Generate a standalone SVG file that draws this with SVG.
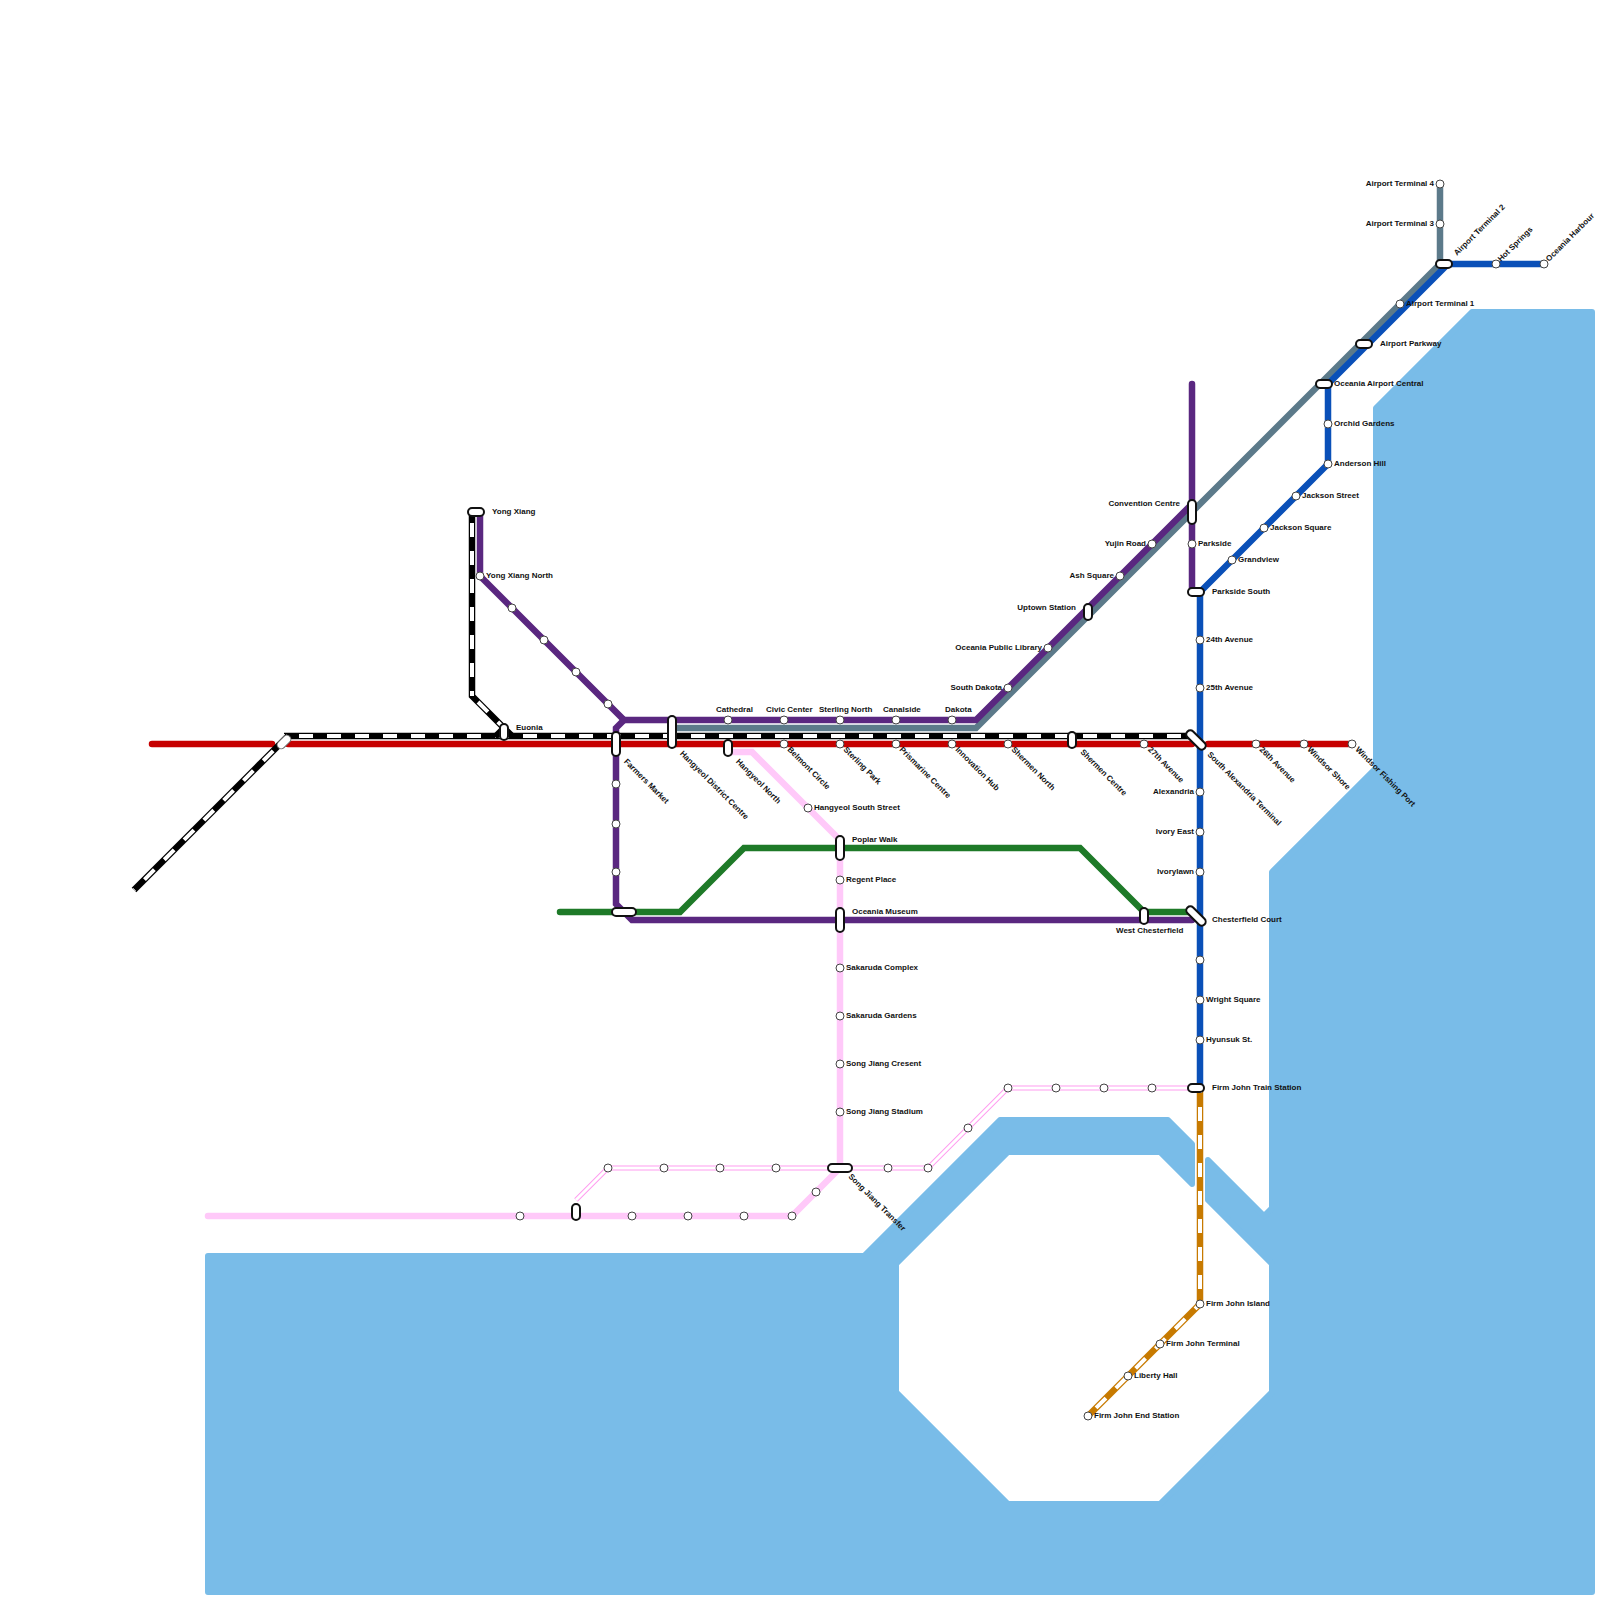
<svg xmlns="http://www.w3.org/2000/svg" width="1600" height="1600" viewBox="0 0 1600 1600">
<style>
.bg{fill:#fff}
.water{fill:#79bce8;stroke:#79bce8;stroke-width:6;stroke-linejoin:round}
.l{fill:none;stroke-width:6.5;stroke-linejoin:miter;stroke-linecap:round}
.b{stroke-linecap:butt}
.red{stroke:#c60000}.pur{stroke:#5a2780}.teal{stroke:#5c7a8a}.blue{stroke:#0a50b8}.green{stroke:#1e7a28}.pink{stroke:#ffc9f9}.brown{stroke:#c77a00}.blk{stroke:#000}
.wd{fill:none;stroke:#fff;stroke-width:4;stroke-dasharray:14 14}
.dbl{fill:none;stroke:#ff9cf0;stroke-width:5;stroke-linejoin:miter}
.dblw{fill:none;stroke:#fff;stroke-width:3;stroke-linejoin:miter}
.s{fill:#fff;stroke:#444;stroke-width:1}
.p{fill:#fff;stroke:#111;stroke-width:2}
.pg{fill:#fff;stroke:#666;stroke-width:1}
text{font-family:"Liberation Sans",Arial,sans-serif;font-size:8px;font-weight:700;fill:#111}
.e{text-anchor:end}
</style>
<rect class="bg" width="1600" height="1600"/>
<polygon id="water" class="water" points="1472,312 1592,312 1592,1592 208,1592 208,1256 864,1256 1000,1120 1168,1120 1192,1144 1192,1184 1160,1152 1008,1152 896,1264 896,1392 1008,1504 1160,1504 1272,1392 1272,1264 1208,1200 1208,1160 1264,1216 1272,1208 1272,872 1376,768 1376,408"/>
<g id="connectors">
<path class="l green" d="M560 912H680L744 848H1080L1144 912H1192"/>
<path class="l red" d="M152 744H272"/>
<path class="l red" d="M288 744H1192"/>
<path class="l red" d="M1208 744H1352"/>
<path class="l teal" d="M672 728H976L1440 264V184"/>
<path class="l pur" d="M480 512V576L624 720H976L1192 504"/>
<path class="l pur" d="M624 720L616 728V904L632 920H1192"/>
<path class="l pur" d="M1192 384V592"/>
<path class="l pink" d="M208 1216H792L840 1168V840L752 752H728"/>
<path class="dbl" d="M576 1200L608 1168H928L1008 1088H1196"/>
<path class="dblw" d="M576 1200L608 1168H928L1008 1088H1196"/>
<path class="l blue b" d="M1200 592V1088"/>
<path class="l blue b" d="M1200 592L1328 464V384L1448 264H1544"/>
<path class="l brown b" d="M1200 1088V1304"/>
<path class="wd" stroke-dashoffset="9" d="M1200 1088V1304"/>
<path class="l brown b" d="M1200 1304L1088 1416"/>
<path class="wd" stroke-dashoffset="7" d="M1200 1304L1088 1416"/>
<path class="l blk b" d="M284 736H1192"/>
<path class="wd" stroke-dashoffset="13" d="M284 736H1192"/>
<path class="l blk b" d="M288 736L134 890"/>
<path class="wd" stroke-dashoffset="7" d="M288 736L134 890"/>
<path class="l blk b" d="M472 512V696L512 736"/>
<path class="wd" stroke-dashoffset="17" d="M472 512V696"/>
<path class="wd" stroke-dashoffset="19.5" d="M472 696L512 736"/>
<path class="l blk b" d="M495 737L504 728"/>
</g>
<g id="n-yong-xiang"><rect class="p" x="468" y="508" width="16" height="8" rx="4"/><text x="492" y="514">Yong Xiang</text></g>
<g id="n-yong-xiang-north"><circle class="s" cx="480" cy="576" r="4"/><text x="486" y="578">Yong Xiang North</text></g>
<g id="n-p1"><circle class="s" cx="512" cy="608" r="4"/></g>
<g id="n-p2"><circle class="s" cx="544" cy="640" r="4"/></g>
<g id="n-p3"><circle class="s" cx="576" cy="672" r="4"/></g>
<g id="n-p4"><circle class="s" cx="608" cy="704" r="4"/></g>
<g id="n-euonia"><rect class="p" x="500" y="724" width="8" height="16" rx="4"/><text x="516" y="730">Euonia</text></g>
<g id="n-west-end"><rect class="pg" x="276" y="738" width="16" height="8" rx="4" transform="rotate(-45 284 742)"/></g>
<g id="n-farmers-market"><rect class="p" x="612" y="732" width="8" height="24" rx="4"/><text transform="translate(623.5 762) rotate(45)">Farmers Market</text></g>
<g id="n-hangyeol-district"><rect class="p" x="668" y="716" width="8" height="32" rx="4"/><text transform="translate(679.5 754) rotate(45)">Hangyeol District Centre</text></g>
<g id="n-hangyeol-north"><rect class="p" x="724" y="740" width="8" height="16" rx="4"/><text transform="translate(735.5 762) rotate(45)">Hangyeol North</text></g>
<g id="n-cathedral"><circle class="s" cx="728" cy="720" r="4"/><text x="716" y="712">Cathedral</text></g>
<g id="n-civic-center"><circle class="s" cx="784" cy="720" r="4"/><text x="766" y="712">Civic Center</text></g>
<g id="n-sterling-north"><circle class="s" cx="840" cy="720" r="4"/><text x="819" y="712">Sterling North</text></g>
<g id="n-canalside"><circle class="s" cx="896" cy="720" r="4"/><text x="883" y="712">Canalside</text></g>
<g id="n-dakota"><circle class="s" cx="952" cy="720" r="4"/><text x="945" y="712">Dakota</text></g>
<g id="n-belmont"><circle class="s" cx="784" cy="744" r="4"/><text transform="translate(787 750) rotate(45)">Belmont Circle</text></g>
<g id="n-sterling-park"><circle class="s" cx="840" cy="744" r="4"/><text transform="translate(843 750) rotate(45)">Sterling Park</text></g>
<g id="n-prismarine"><circle class="s" cx="896" cy="744" r="4"/><text transform="translate(899 750) rotate(45)">Prismarine Centre</text></g>
<g id="n-innovation"><circle class="s" cx="952" cy="744" r="4"/><text transform="translate(955 750) rotate(45)">Innovation Hub</text></g>
<g id="n-shermen-north"><circle class="s" cx="1008" cy="744" r="4"/><text transform="translate(1011 750) rotate(45)">Shermen North</text></g>
<g id="n-shermen-centre"><rect class="p" x="1068" y="732" width="8" height="16" rx="4"/><text transform="translate(1080 752.5) rotate(45)">Shermen Centre</text></g>
<g id="n-27th"><circle class="s" cx="1144" cy="744" r="4"/><text transform="translate(1147.5 750) rotate(45)">27th Avenue</text></g>
<g id="n-south-alexandria"><rect class="p" x="1184" y="736" width="24" height="8" rx="4" transform="rotate(45 1196 740)"/><text transform="translate(1207 755) rotate(45)">South Alexandria Terminal</text></g>
<g id="n-26th"><circle class="s" cx="1256" cy="744" r="4"/><text transform="translate(1259 750) rotate(45)">26th Avenue</text></g>
<g id="n-windsor-shore"><circle class="s" cx="1304" cy="744" r="4"/><text transform="translate(1307 750) rotate(45)">Windsor Shore</text></g>
<g id="n-windsor-fishing"><circle class="s" cx="1352" cy="744" r="4"/><text transform="translate(1355 750) rotate(45)">Windsor Fishing Port</text></g>
<g id="n-south-dakota"><circle class="s" cx="1008" cy="688" r="4"/><text class="e" x="1002" y="690">South Dakota</text></g>
<g id="n-public-library"><circle class="s" cx="1048" cy="648" r="4"/><text class="e" x="1042" y="650">Oceania Public Library</text></g>
<g id="n-uptown"><rect class="p" x="1084" y="604" width="8" height="16" rx="4"/><text class="e" x="1076" y="610">Uptown Station</text></g>
<g id="n-ash-square"><circle class="s" cx="1120" cy="576" r="4"/><text class="e" x="1114" y="578">Ash Square</text></g>
<g id="n-yujin"><circle class="s" cx="1152" cy="544" r="4"/><text class="e" x="1146" y="546">Yujin Road</text></g>
<g id="n-convention"><rect class="p" x="1188" y="500" width="8" height="24" rx="4"/><text class="e" x="1180" y="506">Convention Centre</text></g>
<g id="n-parkside"><circle class="s" cx="1192" cy="544" r="4"/><text x="1198" y="546">Parkside</text></g>
<g id="n-parkside-south"><rect class="p" x="1188" y="588" width="16" height="8" rx="4"/><text x="1212" y="594">Parkside South</text></g>
<g id="n-grandview"><circle class="s" cx="1232" cy="560" r="4"/><text x="1238" y="562">Grandview</text></g>
<g id="n-jackson-square"><circle class="s" cx="1264" cy="528" r="4"/><text x="1270" y="530">Jackson Square</text></g>
<g id="n-jackson-street"><circle class="s" cx="1296" cy="496" r="4"/><text x="1302" y="498">Jackson Street</text></g>
<g id="n-anderson"><circle class="s" cx="1328" cy="464" r="4"/><text x="1334" y="466">Anderson Hill</text></g>
<g id="n-orchid"><circle class="s" cx="1328" cy="424" r="4"/><text x="1334" y="426">Orchid Gardens</text></g>
<g id="n-airport-central"><rect class="p" x="1316" y="380" width="16" height="8" rx="4"/><text x="1334" y="386">Oceania Airport Central</text></g>
<g id="n-airport-parkway"><rect class="p" x="1356" y="340" width="16" height="8" rx="4"/><text x="1380" y="346">Airport Parkway</text></g>
<g id="n-terminal-1"><circle class="s" cx="1400" cy="304" r="4"/><text x="1406" y="306">Airport Terminal 1</text></g>
<g id="n-terminal-2"><rect class="p" x="1436" y="260" width="16" height="8" rx="4"/><text transform="translate(1457 256) rotate(-45)">Airport Terminal 2</text></g>
<g id="n-terminal-3"><circle class="s" cx="1440" cy="224" r="4"/><text class="e" x="1434" y="226">Airport Terminal 3</text></g>
<g id="n-terminal-4"><circle class="s" cx="1440" cy="184" r="4"/><text class="e" x="1434" y="186">Airport Terminal 4</text></g>
<g id="n-hot-springs"><circle class="s" cx="1496" cy="264" r="4"/><text transform="translate(1501 262) rotate(-45)">Hot Springs</text></g>
<g id="n-oceania-harbour"><circle class="s" cx="1544" cy="264" r="4"/><text transform="translate(1549 262) rotate(-45)">Oceania Harbour</text></g>
<g id="n-24th"><circle class="s" cx="1200" cy="640" r="4"/><text x="1206" y="642">24th Avenue</text></g>
<g id="n-25th"><circle class="s" cx="1200" cy="688" r="4"/><text x="1206" y="690">25th Avenue</text></g>
<g id="n-alexandria"><circle class="s" cx="1200" cy="792" r="4"/><text class="e" x="1194" y="794">Alexandria</text></g>
<g id="n-ivory-east"><circle class="s" cx="1200" cy="832" r="4"/><text class="e" x="1194" y="834">Ivory East</text></g>
<g id="n-ivorylawn"><circle class="s" cx="1200" cy="872" r="4"/><text class="e" x="1194" y="874">Ivorylawn</text></g>
<g id="n-chesterfield"><rect class="p" x="1184" y="912" width="24" height="8" rx="4" transform="rotate(45 1196 916)"/><text x="1212" y="922">Chesterfield Court</text></g>
<g id="n-west-chesterfield"><rect class="p" x="1140" y="908" width="8" height="16" rx="4"/><text x="1116" y="933">West Chesterfield</text></g>
<g id="n-b1"><circle class="s" cx="1200" cy="960" r="4"/></g>
<g id="n-wright"><circle class="s" cx="1200" cy="1000" r="4"/><text x="1206" y="1002">Wright Square</text></g>
<g id="n-hyunsuk"><circle class="s" cx="1200" cy="1040" r="4"/><text x="1206" y="1042">Hyunsuk St.</text></g>
<g id="n-firm-john-train"><rect class="p" x="1188" y="1084" width="16" height="8" rx="4"/><text x="1212" y="1090">Firm John Train Station</text></g>
<g id="n-firm-john-island"><circle class="s" cx="1200" cy="1304" r="4"/><text x="1206" y="1306">Firm John Island</text></g>
<g id="n-firm-john-terminal"><circle class="s" cx="1160" cy="1344" r="4"/><text x="1166" y="1346">Firm John Terminal</text></g>
<g id="n-liberty"><circle class="s" cx="1128" cy="1376" r="4"/><text x="1134" y="1378">Liberty Hall</text></g>
<g id="n-firm-john-end"><circle class="s" cx="1088" cy="1416" r="4"/><text x="1094" y="1418">Firm John End Station</text></g>
<g id="n-hangyeol-south"><circle class="s" cx="808" cy="808" r="4"/><text x="814" y="810">Hangyeol South Street</text></g>
<g id="n-poplar"><rect class="p" x="836" y="836" width="8" height="24" rx="4"/><text x="852" y="842">Poplar Walk</text></g>
<g id="n-regent"><circle class="s" cx="840" cy="880" r="4"/><text x="846" y="882">Regent Place</text></g>
<g id="n-oceania-museum"><rect class="p" x="836" y="908" width="8" height="24" rx="4"/><text x="852" y="914">Oceania Museum</text></g>
<g id="n-sakaruda-complex"><circle class="s" cx="840" cy="968" r="4"/><text x="846" y="970">Sakaruda Complex</text></g>
<g id="n-sakaruda-gardens"><circle class="s" cx="840" cy="1016" r="4"/><text x="846" y="1018">Sakaruda Gardens</text></g>
<g id="n-song-cresent"><circle class="s" cx="840" cy="1064" r="4"/><text x="846" y="1066">Song Jiang Cresent</text></g>
<g id="n-song-stadium"><circle class="s" cx="840" cy="1112" r="4"/><text x="846" y="1114">Song Jiang Stadium</text></g>
<g id="n-song-transfer"><rect class="p" x="828" y="1164" width="24" height="8" rx="4"/><text transform="translate(848 1177) rotate(45)">Song Jiang Transfer</text></g>
<g id="n-m1"><circle class="s" cx="816" cy="1192" r="4"/></g>
<g id="n-m2"><circle class="s" cx="792" cy="1216" r="4"/></g>
<g id="n-m3"><circle class="s" cx="744" cy="1216" r="4"/></g>
<g id="n-m4"><circle class="s" cx="688" cy="1216" r="4"/></g>
<g id="n-m5"><circle class="s" cx="632" cy="1216" r="4"/></g>
<g id="n-m6"><rect class="p" x="572" y="1204" width="8" height="16" rx="4"/></g>
<g id="n-m7"><circle class="s" cx="520" cy="1216" r="4"/></g>
<g id="n-t1"><circle class="s" cx="608" cy="1168" r="4"/></g>
<g id="n-t2"><circle class="s" cx="664" cy="1168" r="4"/></g>
<g id="n-t3"><circle class="s" cx="720" cy="1168" r="4"/></g>
<g id="n-t4"><circle class="s" cx="776" cy="1168" r="4"/></g>
<g id="n-t5"><circle class="s" cx="888" cy="1168" r="4"/></g>
<g id="n-t6"><circle class="s" cx="928" cy="1168" r="4"/></g>
<g id="n-t7"><circle class="s" cx="968" cy="1128" r="4"/></g>
<g id="n-t8"><circle class="s" cx="1008" cy="1088" r="4"/></g>
<g id="n-t9"><circle class="s" cx="1056" cy="1088" r="4"/></g>
<g id="n-t10"><circle class="s" cx="1104" cy="1088" r="4"/></g>
<g id="n-t11"><circle class="s" cx="1152" cy="1088" r="4"/></g>
<g id="n-f1"><circle class="s" cx="616" cy="784" r="4"/></g>
<g id="n-f2"><circle class="s" cx="616" cy="824" r="4"/></g>
<g id="n-f3"><circle class="s" cx="616" cy="872" r="4"/></g>
<g id="n-f4"><rect class="p" x="612" y="908" width="24" height="8" rx="4"/></g>
</svg>
